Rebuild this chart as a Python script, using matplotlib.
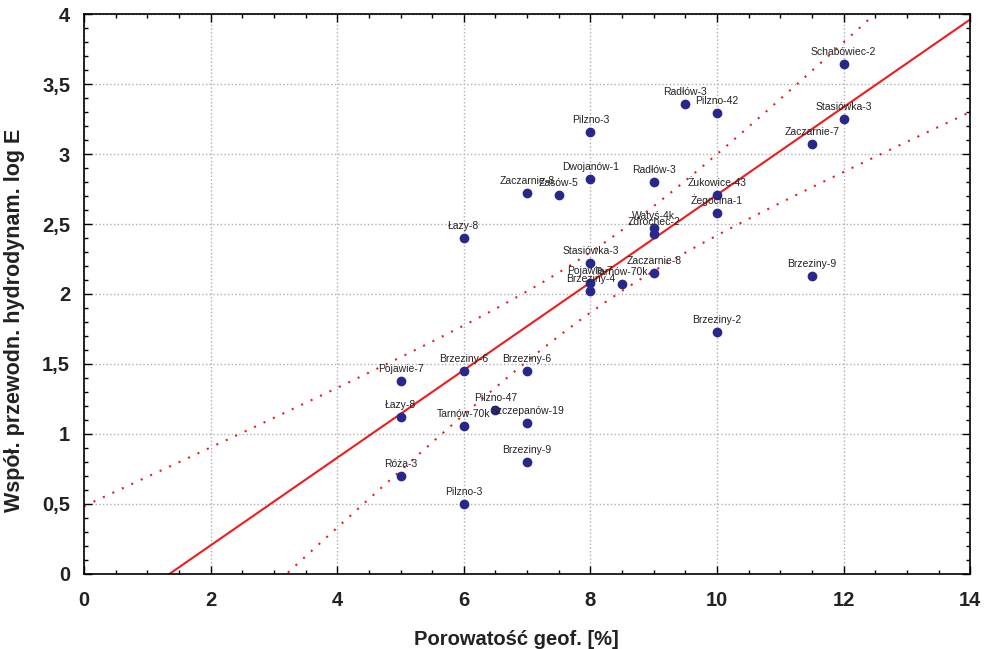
import numpy as np
import matplotlib
matplotlib.use("Agg")
import matplotlib.pyplot as plt
from matplotlib.ticker import MultipleLocator, FuncFormatter

# porowatosc [%], log E, nazwa otworu
names = ["Schabówiec-2", "Radłów-3", "Pilzno-42", "Stasiówka-3", "Pilzno-3",
         "Zaczarnie-7", "Dwojanów-1", "Radłów-3", "Zaczarnie-8", "Zasów-5",
         "Żukowice-43", "Żegocina-1", "Łazy-8", "Watyś-4k", "Zdrochec-2",
         "Stasiówka-3", "Zaczarnie-8", "Pojawie-7", "Tarnów-70k", "Brzeziny-4",
         "Brzeziny-9", "Brzeziny-2", "Pojawie-7", "Brzeziny-6", "Brzeziny-6",
         "Pilzno-47", "Łazy-8", "Tarnów-70k", "Szczepanów-19", "Brzeziny-9",
         "Róża-3", "Pilzno-3"]
poro = [12, 9.5, 10, 12, 8,
        11.5, 8, 9, 7, 7.5,
        10, 10, 6, 9, 9,
        8, 9, 8, 8.5, 8,
        11.5, 10, 5, 6, 7,
        6.5, 5, 6, 7, 7,
        5, 6]
logE = [3.64, 3.36, 3.29, 3.25, 3.16,
        3.07, 2.82, 2.80, 2.72, 2.71,
        2.71, 2.58, 2.40, 2.47, 2.43,
        2.22, 2.15, 2.08, 2.07, 2.02,
        2.13, 1.73, 1.38, 1.45, 1.45,
        1.17, 1.12, 1.06, 1.08, 0.80,
        0.70, 0.50]

x = np.array(poro)
y = np.array(logE)
n = len(x)
b, a = np.polyfit(x, y, 1)
resid = y - (a + b * x)
s = np.sqrt(np.sum(resid ** 2) / (n - 2))
sxx = np.sum((x - x.mean()) ** 2)
t = 2.042  # t(0.975, df=30)

xs = np.linspace(0, 14, 300)
fit = a + b * xs
half = t * s * np.sqrt(1.0 / n + (xs - x.mean()) ** 2 / sxx)

fig = plt.figure(figsize=(9.92, 6.49), dpi=100)
ax = fig.add_axes([0.0847, 0.1156, 0.8933, 0.8628])

ax.plot(xs, fit, color="#ee1c1c", lw=1.5, zorder=2)
ax.plot(xs, fit + half, color="#ee1c1c", lw=1.5, ls=(0, (1, 4)), zorder=2)
ax.plot(xs, fit - half, color="#ee1c1c", lw=1.5, ls=(0, (1, 4)), zorder=2)

ax.scatter(x, y, s=36, color="#28288c", zorder=3)
for nm, xi, yi in zip(names, poro, logE):
    ax.annotate(nm, (xi, yi), xytext=(0, 5), textcoords="offset points",
                ha="center", va="bottom", fontsize=7.5, family="Liberation Sans",
                color="#222222", zorder=4)

ax.set_xlim(0, 14)
ax.set_ylim(0, 4)
ax.xaxis.set_major_locator(MultipleLocator(2))
ax.xaxis.set_minor_locator(MultipleLocator(0.5))
ax.yaxis.set_major_locator(MultipleLocator(0.5))
ax.yaxis.set_minor_locator(MultipleLocator(0.1))
ax.yaxis.set_major_formatter(FuncFormatter(lambda v, p: ("%g" % v).replace(".", ",")))
ax.tick_params(which="both", direction="in", top=True, right=True, width=1)
ax.tick_params(which="major", length=6, labelsize=14.5)
ax.tick_params(which="minor", length=3)
ax.tick_params(axis="x", pad=12)
ax.tick_params(axis="y", pad=10)
for lbl in ax.get_xticklabels() + ax.get_yticklabels():
    lbl.set_fontweight("bold")
    lbl.set_family("Liberation Sans")
    lbl.set_color("#222222")
ax.grid(True, which="major", ls=":", color="#b0b0b0", lw=1)
for sp in ax.spines.values():
    sp.set_linewidth(1.2)

ax.set_xlabel("Porowatość geof. [%]", fontsize=14.5, fontweight="bold",
              family="Liberation Sans", color="#222222")
ax.xaxis.set_label_coords(0.4876, -0.1)
ax.set_ylabel("Współ. przewodn. hydrodynam. log E", fontsize=15.5, fontweight="bold",
              family="Liberation Sans", color="#222222")
ax.yaxis.set_label_coords(-0.067, 0.453)

fig.savefig("out.png", dpi=100)
